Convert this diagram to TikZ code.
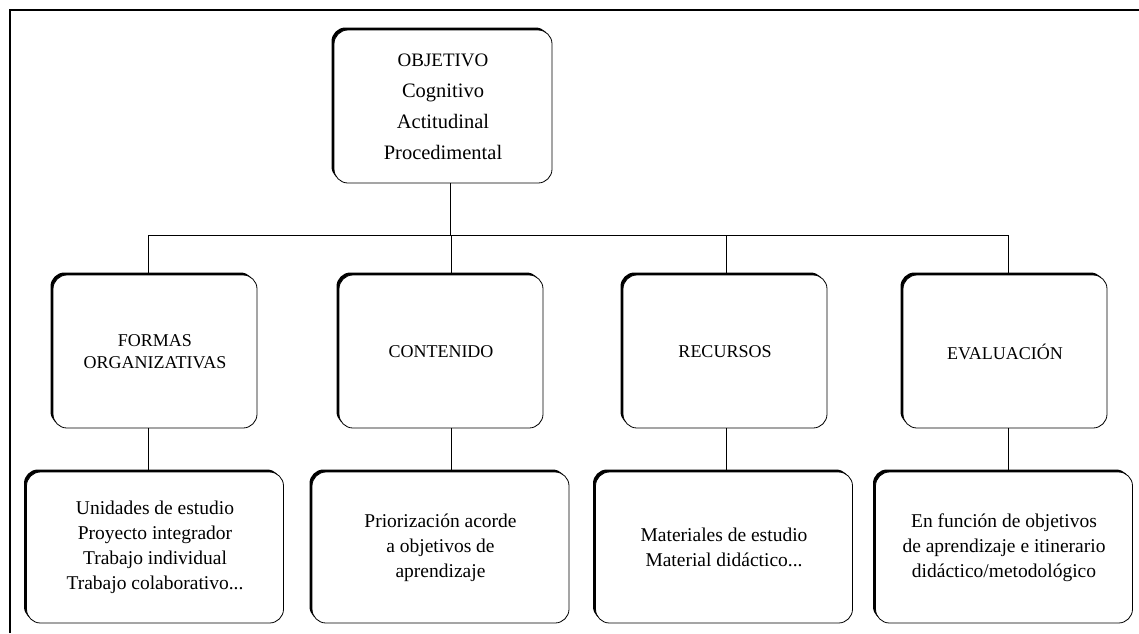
\documentclass[tikz,border=0pt]{standalone}
\usepackage{fontspec}
\setmainfont{Liberation Serif}
\usepackage{tikz}
\usetikzlibrary{shadows}

\begin{document}
\begin{tikzpicture}[x=1pt,y=-1pt,
  caja/.style={draw, thick, fill=white, rounded corners=14pt, align=center,
    general shadow={fill=black, shadow xshift=-2.5pt, shadow yshift=2.5pt}},
  medio/.style={caja, minimum width=204pt, minimum height=153pt,
    font=\fontsize{18}{22}\selectfont},
  abajo/.style={caja, minimum width=257pt, minimum height=151pt,
    font=\fontsize{19.5}{25}\selectfont},
  linea/.style={thick}]
\useasboundingbox (0,0) rectangle (1139,633);
\draw[line width=2.5pt] (10,633) -- (10,10) -- (1139,10);

\node[caja, minimum width=218pt, minimum height=153pt,
  font=\fontsize{20.5}{31}\selectfont] (obj) at (443,106.5)
  {{\fontsize{19}{31}\selectfont OBJETIVO}\\Cognitivo\\Actitudinal\\Procedimental};

\node[medio] (form) at (155,351.5) {FORMAS\\ORGANIZATIVAS};
\node[medio] (cont) at (441,351.5) {CONTENIDO};
\node[medio] (recu) at (725,351.5) {RECURSOS};
\node[medio] (eval) at (1005,351.5) {EVALUACIÓN};

\node[abajo] (form1) at (155,547.5)
  {Unidades de estudio\\Proyecto integrador\\Trabajo individual\\Trabajo colaborativo...};
\node[abajo] (cont1) at (440.5,547.5)
  {Priorización acorde\\a objetivos de\\aprendizaje};
\node[abajo] (recu1) at (724,547.5)
  {Materiales de estudio\\Material didáctico...};
\node[abajo] (eval1) at (1004,547.5)
  {En función de objetivos\\de aprendizaje e itinerario\\didáctico/metodológico};

\coordinate (bus) at (0,235);
\draw[linea] ([xshift=7pt]obj.south) -- ([xshift=7pt]obj.south |- bus);
\draw[linea] ([xshift=-7pt]form.north |- bus) -- ([xshift=3pt]eval.north |- bus);
\foreach \n/\dx in {form/-7,cont/10,recu/1,eval/3}{
  \draw[linea] ([xshift=\dx pt]\n.north) -- ([xshift=\dx pt]\n.north |- bus);
  \draw[linea] ([xshift=\dx pt]\n.south) -- ([xshift=\dx pt]\n.south |- \n1.north);
}
\end{tikzpicture}
\end{document}
